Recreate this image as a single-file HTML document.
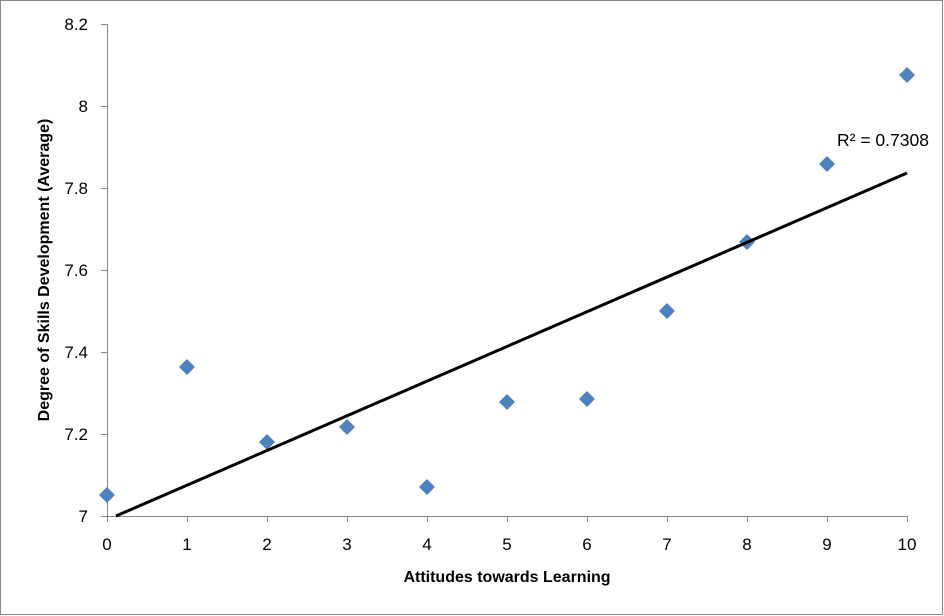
<!DOCTYPE html><html><head><style>body{margin:0;background:#fff}svg{display:block}text{font-family:"Liberation Sans",sans-serif;fill:#000}</style></head><body>
<svg width="944" height="616" viewBox="0 0 944 616">
<rect x="0.5" y="0.5" width="942" height="614" fill="#fff" stroke="#888"/>
<g stroke="#888" stroke-width="1">
<line x1="107.5" y1="24" x2="107.5" y2="516"/>
<line x1="107" y1="516.5" x2="907" y2="516.5"/>
<line x1="101" y1="24.5" x2="107" y2="24.5"/><line x1="101" y1="106.5" x2="107" y2="106.5"/><line x1="101" y1="188.5" x2="107" y2="188.5"/><line x1="101" y1="270.5" x2="107" y2="270.5"/><line x1="101" y1="352.5" x2="107" y2="352.5"/><line x1="101" y1="434.5" x2="107" y2="434.5"/><line x1="101" y1="516.5" x2="107" y2="516.5"/>
<line x1="107.5" y1="516" x2="107.5" y2="522"/><line x1="187.5" y1="516" x2="187.5" y2="522"/><line x1="267.5" y1="516" x2="267.5" y2="522"/><line x1="347.5" y1="516" x2="347.5" y2="522"/><line x1="427.5" y1="516" x2="427.5" y2="522"/><line x1="507.5" y1="516" x2="507.5" y2="522"/><line x1="587.5" y1="516" x2="587.5" y2="522"/><line x1="667.5" y1="516" x2="667.5" y2="522"/><line x1="747.5" y1="516" x2="747.5" y2="522"/><line x1="827.5" y1="516" x2="827.5" y2="522"/><line x1="907.5" y1="516" x2="907.5" y2="522"/>
</g>
<g font-size="17" text-anchor="end">
<text x="88" y="30">8.2</text><text x="88" y="112">8</text><text x="88" y="194">7.8</text><text x="88" y="276">7.6</text><text x="88" y="358">7.4</text><text x="88" y="440">7.2</text><text x="88" y="522">7</text>
</g>
<g font-size="17" text-anchor="middle">
<text x="107" y="550">0</text><text x="187" y="550">1</text><text x="267" y="550">2</text><text x="347" y="550">3</text><text x="427" y="550">4</text><text x="507" y="550">5</text><text x="587" y="550">6</text><text x="667" y="550">7</text><text x="747" y="550">8</text><text x="827" y="550">9</text><text x="907" y="550">10</text>
</g>
<text x="507" y="582" font-size="16" font-weight="bold" text-anchor="middle">Attitudes towards Learning</text>
<text transform="translate(49,270) rotate(-90)" font-size="16" font-weight="bold" text-anchor="middle">Degree of Skills Development (Average)</text>
<g fill="#4f81bd">
<path d="M107 487l8 8-8 8-8-8z"/><path d="M187 359l8 8-8 8-8-8z"/><path d="M267 434l8 8-8 8-8-8z"/><path d="M347 419l8 8-8 8-8-8z"/><path d="M427 479l8 8-8 8-8-8z"/><path d="M507 394l8 8-8 8-8-8z"/><path d="M587 391l8 8-8 8-8-8z"/><path d="M667 303l8 8-8 8-8-8z"/><path d="M747 234l8 8-8 8-8-8z"/><path d="M827 156l8 8-8 8-8-8z"/><path d="M907 67l8 8-8 8-8-8z"/>
</g>
<line x1="116" y1="516" x2="907" y2="173" stroke="#000" stroke-width="3"/>
<text x="837" y="146" font-size="17.5">R² = 0.7308</text>
</svg></body></html>
